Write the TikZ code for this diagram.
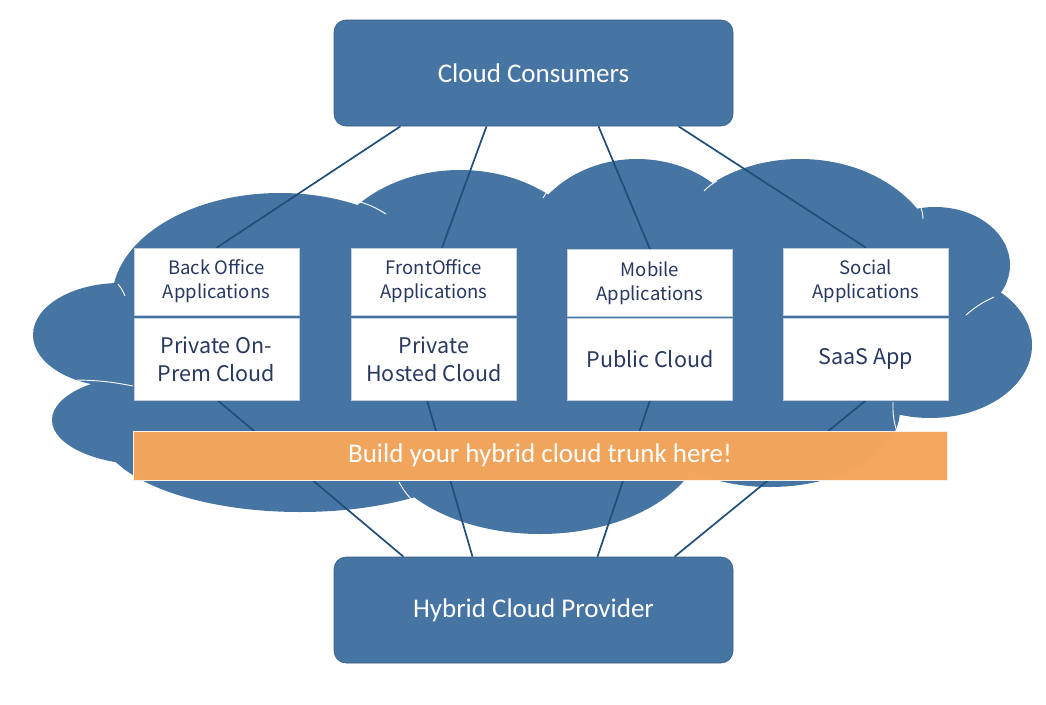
\documentclass[tikz,border=0pt]{standalone}
\usepackage{fontspec}
\setmainfont{Carlito}
\newfontfamily\jpfont{Noto Sans CJK JP}
\definecolor{cloudblue}{RGB}{70,116,163}
\definecolor{linenavy}{RGB}{31,78,121}
\definecolor{trunk}{RGB}{244,165,90}
\definecolor{boxtext}{RGB}{40,56,96}
\pgfdeclarelayer{cloudlayer}
\pgfdeclarelayer{linklayer}
\pgfsetlayers{cloudlayer,linklayer,main}
\begin{document}
\begin{tikzpicture}[x=1pt,y=-1pt,
  lobe/.style={fill=cloudblue, draw=none},
  puffline/.style={draw=white, line width=0.9pt},
  link/.style={draw=linenavy, line width=1.7pt},
  rolebox/.style={rectangle, rounded corners=12pt, fill=cloudblue, draw=cloudblue!80!black, line width=0.6pt, minimum width=399pt, minimum height=106pt, text=white, font=\fontsize{27}{30}\selectfont, inner sep=0pt},
  apptop/.style={rectangle, fill=white, draw=cloudblue!35, line width=0.5pt, minimum width=165pt, minimum height=67pt, align=center, text=boxtext, font=\jpfont\fontsize{18.5}{24}\selectfont, inner sep=0pt},
  appbot/.style={rectangle, fill=white, draw=cloudblue!35, line width=0.5pt, minimum width=165pt, minimum height=82pt, align=center, text=boxtext, font=\jpfont\fontsize{21.5}{28}\selectfont, inner sep=0pt},
  trunkbar/.style={rectangle, fill=trunk, fill opacity=0.985, text opacity=1, draw=white!85!trunk, line width=0.6pt, minimum width=814pt, minimum height=49pt, text=white, font=\fontsize{27}{30}\selectfont, inner sep=0pt}
]
\useasboundingbox (0,0) rectangle (1046,704);

% role boxes
\node[rolebox] (cc) at (533.5,73) {Cloud Consumers};
\node[rolebox] (hp) at (533.5,610) {Hybrid Cloud Provider};

% application boxes
\node[apptop] (bo)  at (216.5,281.5) {Back Office\\Applications};
\node[appbot] (bo2) at (216.5,359)   {Private On-\\Prem Cloud};
\node[apptop] (fo)  at (434,281.5)   {FrontOffice\\Applications};
\node[appbot] (fo2) at (434,359)     {Private\\Hosted Cloud};
\node[apptop] (mo)  at (650,283)     {Mobile\\Applications};
\node[appbot] (mo2) at (650,359)     {Public Cloud};
\node[apptop] (so)  at (866,281.5)   {Social\\Applications};
\node[appbot] (so2) at (866,359)     {SaaS App};

% trunk bar
\node[trunkbar] (tr) at (540,455.5) {Build your hybrid cloud trunk here!};

% connectors
\begin{pgfonlayer}{linklayer}
\draw[link] ([xshift=-133pt]cc.south) -- (bo.north);
\draw[link] ([xshift=-47pt]cc.south) -- ([xshift=8pt]fo.north);
\draw[link] ([xshift=65pt]cc.south) -- (mo.north);
\draw[link] ([xshift=145pt]cc.south) -- (so.north);
\draw[link] ([xshift=1pt]bo2.south) -- ([xshift=-130pt]hp.north);
\draw[link] ([xshift=-7pt]fo2.south) -- ([xshift=-61pt]hp.north);
\draw[link] (mo2.south) -- ([xshift=64pt]hp.north);
\draw[link] (so2.south) -- ([xshift=141pt]hp.north);
\end{pgfonlayer}

% cloud
\begin{pgfonlayer}{cloudlayer}
\fill[lobe] (155,235) rectangle (880,440);
\fill[lobe] (280,300) ellipse [x radius=168pt, y radius=107pt];
\fill[lobe] (460,280) ellipse [x radius=140pt, y radius=110pt];
\fill[lobe] (637,259) ellipse [x radius=116pt, y radius=100pt];
\fill[lobe] (800,269) ellipse [x radius=140pt, y radius=110pt];
\fill[lobe] (935,265) ellipse [x radius=75pt, y radius=58pt];
\fill[lobe] (930,345) ellipse [x radius=102pt, y radius=73pt];
\fill[lobe] (770,410) ellipse [x radius=130pt, y radius=77pt];
\fill[lobe] (540,430) ellipse [x radius=165pt, y radius=104pt];
\fill[lobe] (300,430) ellipse [x radius=200pt, y radius=82pt];
\fill[lobe] (150,420) ellipse [x radius=98pt, y radius=45pt];
\fill[lobe] (120,335) ellipse [x radius=87pt, y radius=52pt];
% inner puff outlines
\draw[puffline] (357,201) to[bend left=8] (386,214);
\draw[puffline] (543,198) to[bend left=8] (550,189);
\draw[puffline] (704,191) to[bend left=8] (717,181);
\draw[puffline] (921,208) to[bend left=8] (923,219);
\draw[puffline] (966,315) to[bend left=8] (994,297);
\draw[puffline] (893,402) to[bend right=8] (896,429);
\draw[puffline] (118,284) to[bend left=8] (125,296);
\draw[puffline] (77,380) to[bend left=5] (133,386);
\draw[puffline] (399,482) to[bend right=8] (414,502);
\end{pgfonlayer}
\end{tikzpicture}
\end{document}
